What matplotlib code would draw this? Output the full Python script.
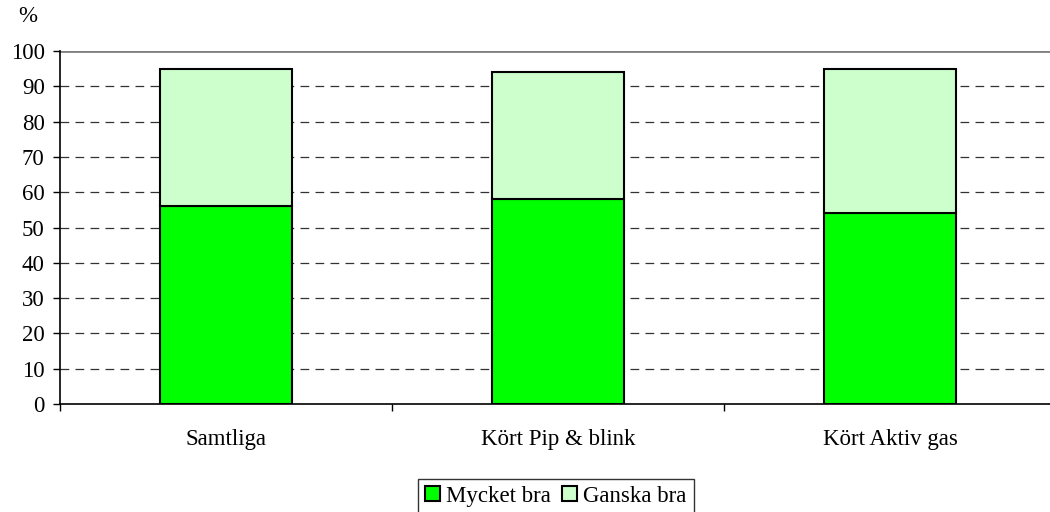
import numpy as np
import matplotlib
matplotlib.use('Agg')
import matplotlib.pyplot as plt
from matplotlib.patches import Patch

plt.rcParams['font.family'] = ['Liberation Serif', 'DejaVu Serif']

categories = ['Samtliga', 'Kört Pip & blink', 'Kört Aktiv gas']
mycket_bra = [56, 58, 54]
ganska_bra = [39, 36, 41]
series_names = ['Mycket bra', 'Ganska bra']
colors = ['#00ff00', '#ccffcc']

fs = 16.5
fig = plt.figure(figsize=(10.5, 5.12), dpi=100)
ax = fig.add_axes([60/1050, 1-404/512, 996/1050, 353/512])

x = np.arange(len(categories)) + 0.5
ax.bar(x, mycket_bra, width=0.4, color=colors[0], edgecolor='black', linewidth=1.5, zorder=3)
ax.bar(x, ganska_bra, width=0.4, bottom=mycket_bra, color=colors[1], edgecolor='black', linewidth=1.5, zorder=3)

ax.set_xlim(0, len(categories))
ax.set_ylim(0, 100)
ax.set_yticks(np.arange(0, 101, 10))
for y in range(10, 100, 10):
    ax.axhline(y, color='#333333', linestyle=(0, (7, 5)), linewidth=0.9, zorder=1)
ax.axhline(100, color='#808080', linewidth=2, zorder=1)

ax.set_xticks(np.arange(len(categories) + 1))
ax.set_xticklabels([])
ax.set_xticks(x, minor=True)
ax.set_xticklabels(categories, minor=True)
ax.tick_params(axis='x', which='minor', length=0, pad=18, labelsize=fs)
ax.tick_params(axis='x', which='major', length=5, direction='out', width=1)
ax.tick_params(axis='y', length=5, width=1, labelsize=fs, pad=6)

for s in ['top', 'right']:
    ax.spines[s].set_visible(False)
ax.spines['left'].set_linewidth(1.2)
ax.spines['bottom'].set_linewidth(1.2)

fig.text(18/1050, 1-17/512, '%', fontsize=fs, va='center')

handles = [Patch(facecolor=c, edgecolor='black', linewidth=1.5) for c in colors]
fig.legend(handles, series_names, loc='upper center', bbox_to_anchor=(556/1050, 1-479/512),
           ncol=2, frameon=True, fancybox=False, edgecolor='black', fontsize=fs,
           handlelength=0.65, handleheight=0.65, handletextpad=0.26, columnspacing=0.5,
           borderpad=0.3, borderaxespad=0)

fig.savefig('out.png', dpi=100, facecolor='white')
